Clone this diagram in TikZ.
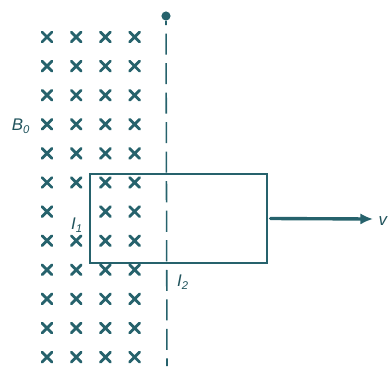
\documentclass[tikz,border=0pt]{standalone}
\usepackage{fontspec}
\setmainfont{Liberation Sans}
\usetikzlibrary{arrows.meta,shapes.misc}

\definecolor{fieldteal}{RGB}{38,98,108}

\begin{document}
\begin{tikzpicture}[
			x=0.025cm, y=-0.025cm,
			every node/.style={font=\fontsize{12}{14}\selectfont\itshape, text=fieldteal!85!black},
			line cap=round,
			line join=round,
			crossmark/.style={cross out, draw=fieldteal, line width=2pt, minimum size=5pt, inner sep=0pt}
			]
			\useasboundingbox (0,0) rectangle (392,370);
			
			% field region, one cross left out for the label
			\foreach \r in {0,...,11}
			{
				\foreach \c in {0,...,3}
				{
					\pgfmathtruncatemacro\gapcell{(\r==6)&&(\c==1)}
					\ifnum\gapcell=0
						\node[crossmark] (x-\r-\c) at ({47+29.2*\c},{37+29.1*\r}) {};
					\fi
				}
			}
			
			\node (bfield) at (21,126) {B\textsubscript{0}};
			
			% axis through the pivot
			\node[circle, fill=fieldteal, inner sep=0pt, minimum size=6.5pt] (pivot) at (166,16) {};
			\coordinate (axisend) at (167,366);
			\draw[fieldteal, line width=1.1pt, line cap=butt, dash pattern=on 15pt off 6pt, dash phase=12pt] (pivot.south) -- (axisend);
			
			% the loop
			\node[draw=fieldteal, line width=1.4pt, line join=miter, minimum width=125.5pt, minimum height=63pt, inner sep=0pt] (loop) at (178.5,218.5) {};
			
			\node (cur1) at (77,225) {I\textsubscript{1}};
			\node (cur2) at (183,282) {I\textsubscript{2}};
			
			% velocity
			\coordinate (tip) at (373,219);
			\draw[fieldteal, line width=2.4pt, -{Latex[length=9pt, width=8pt]}] ([xshift=2pt]loop.east) -- (tip);
			\node[anchor=west, inner sep=1pt] (vel) at (377,221) {v};
		\end{tikzpicture}
\end{document}
